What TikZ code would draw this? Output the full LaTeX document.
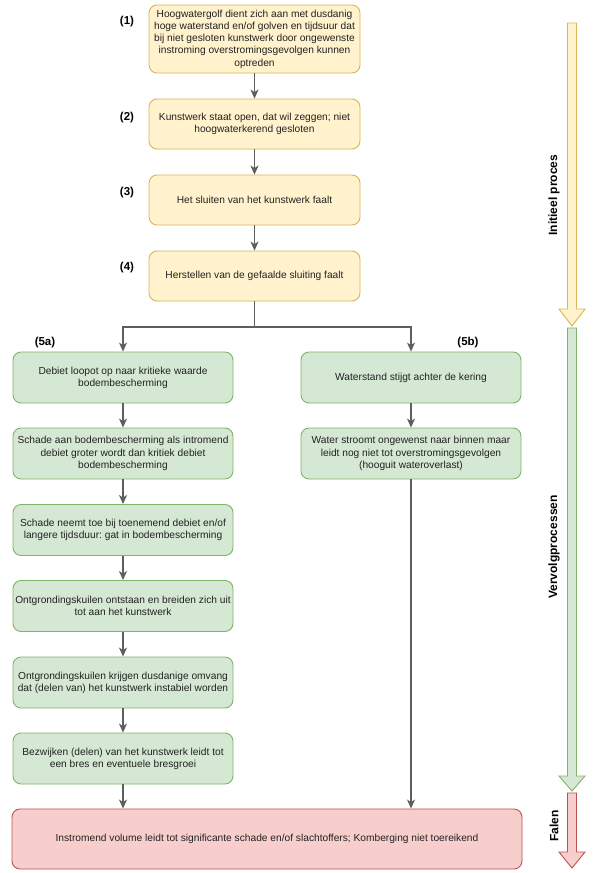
\documentclass[tikz,border=0pt]{standalone}
\usepackage{fontspec}
\setmainfont{Liberation Sans}
\frenchspacing
\usetikzlibrary{arrows.meta}
\definecolor{yfill}{HTML}{FFF2CC}
\definecolor{ydraw}{HTML}{D6B656}
\definecolor{gfill}{HTML}{D5E8D4}
\definecolor{gdraw}{HTML}{82B366}
\definecolor{rfill}{HTML}{F8CECC}
\definecolor{rdraw}{HTML}{B85450}
\definecolor{linec}{HTML}{5E5E5E}
\definecolor{txt}{HTML}{222222}
\tikzset{
  box/.style={draw, rounded corners=8pt, line width=0.9pt, align=center, inner sep=0pt,
    font=\fontsize{10.2}{12.2}\selectfont, text=txt},
  ybox/.style={box, fill=yfill, draw=ydraw, minimum width=211pt},
  gbox/.style={box, fill=gfill, draw=gdraw, minimum width=220pt, minimum height=51pt},
  rbox/.style={box, fill=rfill, draw=rdraw, minimum width=510pt, minimum height=60pt},
  conn/.style={draw=linec, line width=1.2pt},
  arr/.style={conn, -{Stealth[length=9pt,width=8pt,inset=2.5pt]}},
  numlbl/.style={font=\fontsize{11.5}{13}\selectfont\bfseries, text=black, inner sep=0pt},
  sidelbl/.style={font=\fontsize{12}{14}\selectfont\bfseries, text=black, inner sep=0pt, rotate=90},
  flexarr/.style={line width=0.9pt}
}
\begin{document}
\begin{tikzpicture}[x=1pt,y=-1pt]
\useasboundingbox (0,0) rectangle (594,873);
\fill[white] (0,0) rectangle (594,873);

% initial process
\node[ybox, minimum height=68pt] (b1) at (254.5,39) {Hoogwatergolf dient zich aan met dusdanig\\hoge waterstand en/of golven en tijdsuur dat\\bij niet gesloten kunstwerk door ongewenste\\instroming overstromingsgevolgen kunnen\\optreden};
\node[ybox, minimum height=50pt] (b2) at (254.5,124) {Kunstwerk staat open, dat wil zeggen; niet\\hoogwaterkerend gesloten};
\node[ybox, minimum height=50pt] (b3) at (254.5,200) {Het sluiten van het kunstwerk faalt};
\node[ybox, minimum height=50pt] (b4) at (254.5,276) {Herstellen van de gefaalde sluiting faalt};

\node[numlbl] (l1) at (127,22) {(1)};
\node[numlbl] (l2) at (127,118) {(2)};
\node[numlbl] (l3) at (127,193) {(3)};
\node[numlbl] (l4) at (127,268) {(4)};

% branch 5a
\node[gbox] (a1) at (123,377.5) {Debiet loopot op naar kritieke waarde\\bodembescherming};
\node[gbox] (a2) at (123,453.5) {Schade aan bodembescherming als intromend\\debiet groter wordt dan kritiek debiet\\bodembescherming};
\node[gbox] (a3) at (123,530) {Schade neemt toe bij toenemend debiet en/of\\langere tijdsduur: gat in bodembescherming};
\node[gbox] (a4) at (123,606) {Ontgrondingskuilen ontstaan en breiden zich uit\\tot aan het kunstwerk};
\node[gbox] (a5) at (123,682.5) {Ontgrondingskuilen krijgen dusdanige omvang\\dat (delen van) het kunstwerk instabiel worden};
\node[gbox] (a6) at (123,758.5) {Bezwijken (delen) van het kunstwerk leidt tot\\een bres en eventuele bresgroei};

% branch 5b
\node[gbox] (c1) at (411,377.5) {Waterstand stijgt achter de kering};
\node[gbox] (c2) at (411,453.5) {Water stroomt ongewenst naar binnen maar\\leidt nog niet tot overstromingsgevolgen\\(hooguit wateroverlast)};

\node[numlbl] (l5a) at (45,343) {(5a)};
\node[numlbl] (l5b) at (468,343) {(5b)};

% failure
\node[rbox] (f) at (267,839) {Instromend volume leidt tot significante schade en/of slachtoffers; Komberging niet toereikend};

% connectors
\draw[arr] (b1) -- (b2);
\draw[arr] (b2) -- (b3);
\draw[arr] (b3) -- (b4);
\coordinate (j) at (254.5,327);
\draw[conn] (b4.south) -- (j);
\draw[arr] (j) -| (a1.north);
\draw[arr] (j) -| (c1.north);
\draw[arr] (a1) -- (a2);
\draw[arr] (a2) -- (a3);
\draw[arr] (a3) -- (a4);
\draw[arr] (a4) -- (a5);
\draw[arr] (a5) -- (a6);
\draw[arr] (a6.south) -- (a6.south |- f.north);
\draw[arr] (c1) -- (c2);
\draw[arr] (c2.south) -- (c2.south |- f.north);

% side phase arrows
\filldraw[flexarr, fill=yfill, draw=ydraw]
  (567.5,23) -- (576.5,23) -- (576.5,309) -- (585,309) -- (572,326) -- (559,309) -- (567.5,309) -- cycle;
\filldraw[flexarr, fill=gfill, draw=gdraw]
  (567.5,328) -- (576.5,328) -- (576.5,776) -- (585,776) -- (572,791) -- (559,776) -- (567.5,776) -- cycle;
\filldraw[flexarr, fill=rfill, draw=rdraw]
  (567.5,793) -- (576.5,793) -- (576.5,852) -- (585,852) -- (572,868) -- (559,852) -- (567.5,852) -- cycle;

\node[sidelbl] (s1) at (554,195) {Initieel proces};
\node[sidelbl] (s2) at (554,547) {Vervolgprocessen};
\node[sidelbl] (s3) at (554,826) {Falen};
\end{tikzpicture}
\end{document}
